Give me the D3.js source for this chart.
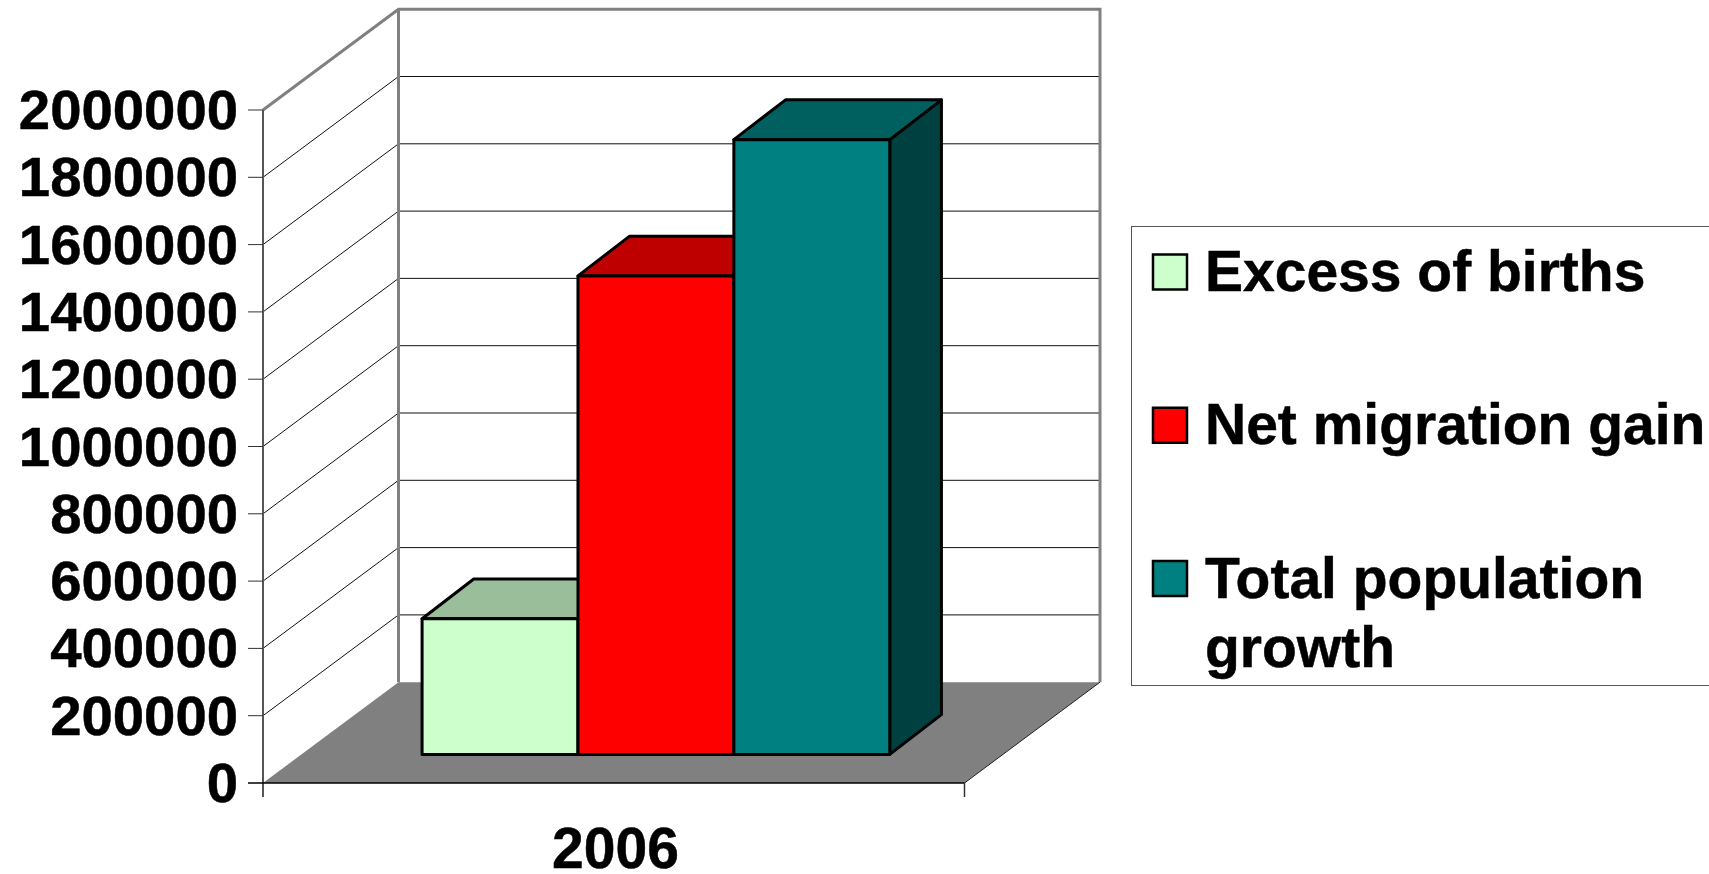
<!DOCTYPE html>
<html>
<head>
<meta charset="utf-8">
<script src="https://cdnjs.cloudflare.com/ajax/libs/d3/7.8.5/d3.min.js"></script>
<style>
html,body{margin:0;padding:0;background:#fff;overflow:hidden}
svg{display:block}
text{font-family:"Liberation Sans",Arial,sans-serif;font-weight:700;fill:#000;stroke:#000;stroke-width:.5px}
</style>
</head>
<body>
<script>
const categories = ["2006"];
const seriesNames = ["Excess of births", "Net migration gain", "Total population growth"];
const seriesValues = [403000, 1422000, 1827000];
const frontColors = ["#ccffcc", "#ff0000", "#008080"];
const topColors = ["#9abd9a", "#bf0000", "#006060"];
const sideColors = ["#669966", "#800000", "#004040"];
const yTicks = [0,200000,400000,600000,800000,1000000,1200000,1400000,1600000,1800000,2000000];
const legendLines = [["Excess of births"], ["Net migration gain"], ["Total population", "growth"]];

const W = 1709, H = 874;
const svg = d3.select("body").append("svg").attr("width", W).attr("height", H);

const y = d3.scaleLinear().domain([0, 2000000]).range([783, 110]);
const x = d3.scaleBand().domain(seriesNames).range([263, 964.5]).paddingInner(0).paddingOuter(0.75).align(0.516);
const depthX = d3.scaleLinear().domain([0, 1]).range([0, 135.5]);
const depthY = d3.scaleLinear().domain([0, 1]).range([0, -100.8]);
const X = (xv, z) => xv + depthX(z);
const Y = (v, z) => y(v) + depthY(z);
const poly = pts => "M" + pts.map(p => p.join(",")).join("L") + "Z";
const x0 = 263, x1 = 964.5, vMax = 2000000;

// back wall and floor
svg.append("path").attr("fill", "#fff")
  .attr("d", poly([[X(x0,1),Y(0,1)],[X(x1,1),Y(0,1)],[X(x1,1),Y(vMax,1)],[X(x0,1),Y(vMax,1)]]));
svg.append("path").attr("fill", "#808080")
  .attr("d", poly([[X(x0,0),Y(0,0)],[X(x1,0),Y(0,0)],[X(x1,1),Y(0,1)],[X(x0,1),Y(0,1)]]));

// gridlines
svg.append("g").selectAll("path").data(yTicks.filter(t => t > 0 && t < vMax)).join("path")
  .attr("fill", "none").attr("stroke", "#111").attr("stroke-width", 1)
  .attr("d", t => `M${X(x0,0)},${Y(t,0)}L${X(x0,1)},${Y(t,1)}L${X(x1,1)},${Y(t,1)}`);

// wall frame
svg.append("path").attr("fill", "none").attr("stroke", "#808080").attr("stroke-width", 3)
  .attr("d", `M${X(x0,0)},${Y(vMax,0)}L${X(x0,1)},${Y(vMax,1)}L${X(x1,1)},${Y(vMax,1)}L${X(x1,1)},${Y(0,1)}`);
svg.append("path").attr("fill", "none").attr("stroke", "#808080").attr("stroke-width", 3)
  .attr("d", `M${X(x0,1)},${Y(vMax,1)}L${X(x0,1)},${Y(0,1)}`);

// axes
svg.append("line").attr("x1", x0).attr("x2", x0).attr("y1", y(vMax)).attr("y2", 797)
  .attr("stroke", "#555").attr("stroke-width", 2);
svg.append("line").attr("x1", 248).attr("x2", x1).attr("y1", y(0)).attr("y2", y(0))
  .attr("stroke", "#000").attr("stroke-width", 1.5);
svg.append("line").attr("x1", x1).attr("x2", x1).attr("y1", y(0)).attr("y2", 797)
  .attr("stroke", "#333").attr("stroke-width", 1.5);
svg.append("line").attr("x1", x1).attr("x2", X(x1,1)).attr("y1", y(0)).attr("y2", Y(0,1))
  .attr("stroke", "#222").attr("stroke-width", 1);
svg.append("g").selectAll("line").data(yTicks.filter(t => t > 0)).join("line")
  .attr("x1", 248).attr("x2", x0).attr("y1", t => y(t)).attr("y2", t => y(t))
  .attr("stroke", "#333").attr("stroke-width", 1);

// tick labels
svg.append("g").selectAll("text").data(yTicks).join("text")
  .attr("x", 238).attr("y", t => y(t) + 19).attr("text-anchor", "end")
  .attr("font-size", 56.3).text(t => d3.format("d")(t));
svg.append("text").attr("x", 615.5).attr("y", 868).attr("text-anchor", "middle")
  .attr("font-size", 57).text(categories[0]);

// bars
const zFront = 0.2836, zBackX = 0.665, zBackY = 0.678;
const barBase = 0;
const bars = svg.append("g").selectAll("g").data(seriesNames).join("g")
  .attr("stroke", "#000").attr("stroke-width", 3).attr("stroke-linejoin", "round");
bars.each(function(name, i) {
  const g = d3.select(this), l = x(name), r = l + x.bandwidth(), v = seriesValues[i];
  g.append("path").attr("fill", sideColors[i]).attr("d", poly([
    [X(r,zFront),Y(barBase,zFront)],[X(r,zBackX),Y(barBase,zBackY)],[X(r,zBackX),Y(v,zBackY)],[X(r,zFront),Y(v,zFront)]]));
  g.append("path").attr("fill", topColors[i]).attr("d", poly([
    [X(l,zFront),Y(v,zFront)],[X(r,zFront),Y(v,zFront)],[X(r,zBackX),Y(v,zBackY)],[X(l,zBackX),Y(v,zBackY)]]));
  g.append("path").attr("fill", frontColors[i]).attr("d", poly([
    [X(l,zFront),Y(barBase,zFront)],[X(r,zFront),Y(barBase,zFront)],[X(r,zFront),Y(v,zFront)],[X(l,zFront),Y(v,zFront)]]));
});

// legend
svg.append("rect").attr("x", 1131.5).attr("y", 226.5).attr("width", 700).attr("height", 459)
  .attr("fill", "#fff").attr("stroke", "#555").attr("stroke-width", 1);
const legendY = d3.scalePoint().domain(seriesNames).range([272, 578.5]);
const lg = svg.append("g").selectAll("g").data(seriesNames).join("g");
lg.append("rect").attr("x", 1153).attr("y", d => legendY(d) - 17.5).attr("width", 34).attr("height", 35)
  .attr("fill", (d, i) => frontColors[i]).attr("stroke", "#000").attr("stroke-width", 2.5);
lg.each(function(d, i) {
  d3.select(this).selectAll("text").data(legendLines[i]).join("text")
    .attr("x", 1205).attr("y", (t, j) => legendY(d) + 19 + j * 69.5)
    .attr("font-size", 57).text(t => t);
});
</script>
</body>
</html>
